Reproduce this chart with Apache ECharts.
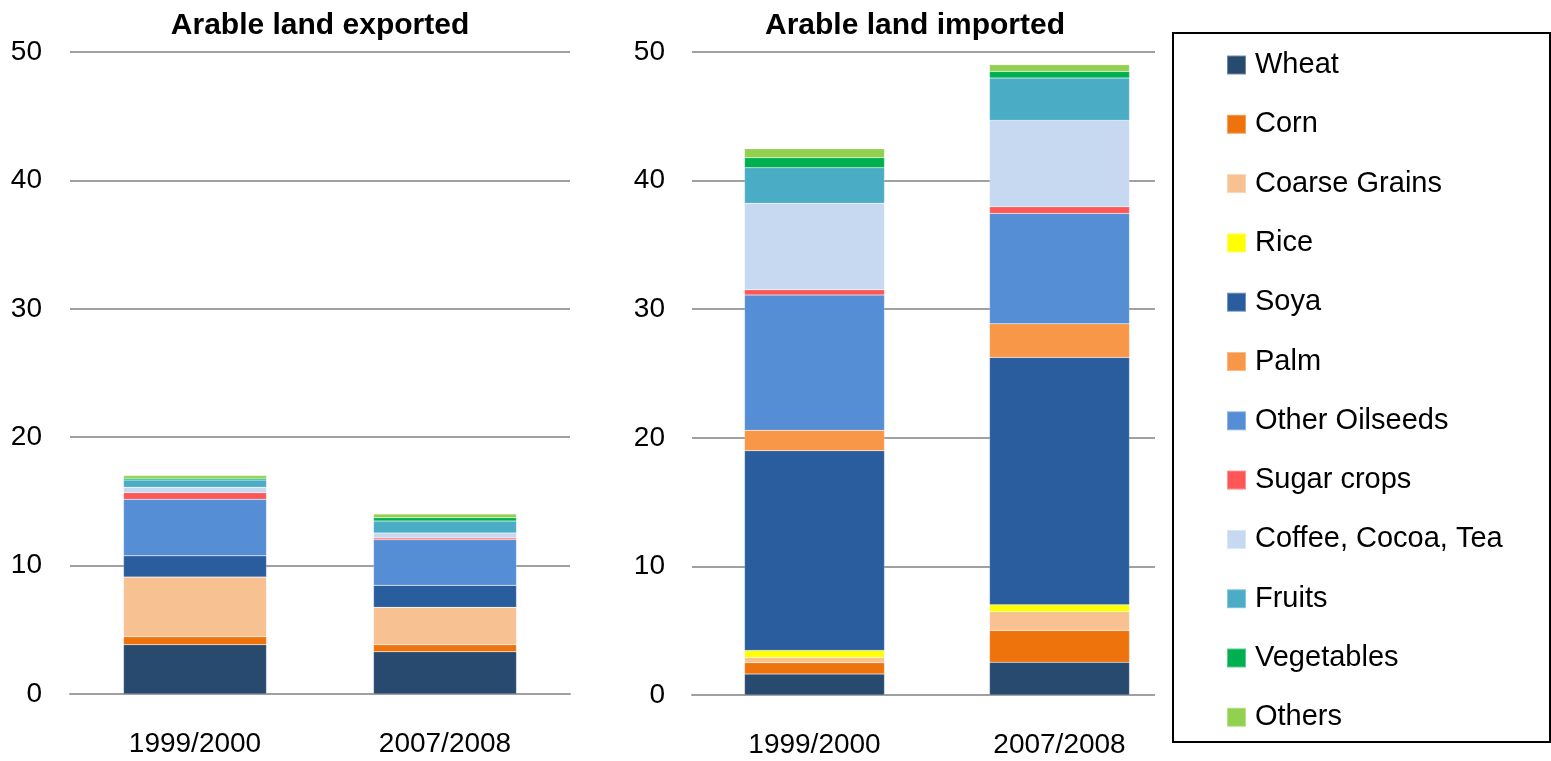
<!DOCTYPE html>
<html>
<head>
<meta charset="utf-8">
<script src="https://cdn.jsdelivr.net/npm/echarts@6/dist/echarts.min.js"></script>
<style>
  html, body { margin: 0; padding: 0; background: #fff; }
  #chart { width: 1551px; height: 761px; }
</style>
</head>
<body>
<div id="chart"></div>
<script>
// categories and crops
const years = ['1999/2000', '2007/2008'];
const crops = ['Wheat', 'Corn', 'Coarse Grains', 'Rice', 'Soya', 'Palm', 'Other Oilseeds',
  'Sugar crops', 'Coffee, Cocoa, Tea', 'Fruits', 'Vegetables', 'Others'];
const cropColors = ['#294A6F', '#EE730D', '#F8C192', '#FFFF00', '#2A5D9E', '#F79747', '#558ED5',
  '#FF5757', '#C7D9F0', '#4BACC6', '#00B050', '#92D050'];

// values, in crop order
const exported1999 = [3.84, 0.62, 4.65, 0, 1.66, 0, 4.39, 0.52, 0.42, 0.57, 0.13, 0.21];
const exported2007 = [3.29, 0.55, 2.91, 0, 1.72, 0, 3.55, 0.13, 0.39, 0.93, 0.26, 0.29];
const imported1999 = [1.63, 0.88, 0.41, 0.55, 15.53, 1.58, 10.52, 0.42, 6.71, 2.77, 0.78, 0.70];
const imported2007 = [2.54, 2.48, 1.46, 0.54, 19.23, 2.62, 8.58, 0.52, 6.71, 3.30, 0.51, 0.52];

const yTicks = { min: 0, max: 50, interval: 10 };

const chart = echarts.init(document.getElementById('chart'), null, { renderer: 'canvas' });
const font = 'Liberation Sans, Arial, sans-serif';

function makeSeries(idx, a, b, stack, width) {
  return crops.map((name, i) => ({
    name: name,
    type: 'bar',
    stack: stack,
    xAxisIndex: idx,
    yAxisIndex: idx,
    barWidth: width,
    data: [a[i], b[i]],
    itemStyle: { color: cropColors[i], borderColor: 'rgba(255,255,255,0.35)', borderWidth: 0.5 },
    emphasis: { disabled: true }
  }));
}

function xAxis(idx) {
  return {
    type: 'category',
    gridIndex: idx,
    data: years,
    axisTick: { show: false },
    axisLine: { lineStyle: { color: '#a0a0a0', width: 2 } },
    axisLabel: { color: '#000', fontSize: 28, fontFamily: font, margin: 36 }
  };
}

function yAxis(idx, margin) {
  return {
    type: 'value',
    gridIndex: idx,
    min: yTicks.min,
    max: yTicks.max,
    interval: yTicks.interval,
    axisLine: { show: false },
    axisTick: { show: false },
    splitLine: { lineStyle: { color: '#a0a0a0', width: 2 } },
    axisLabel: { color: '#000', fontSize: 28, fontFamily: font, margin: margin }
  };
}

chart.setOption({
  animation: false,
  title: [
    { text: 'Arable land exported', left: 315, top: 6, textAlign: 'center',
      textStyle: { fontSize: 30, fontWeight: 'bold', fontFamily: font, color: '#000' } },
    { text: 'Arable land imported', left: 910, top: 6, textAlign: 'center',
      textStyle: { fontSize: 30, fontWeight: 'bold', fontFamily: font, color: '#000' } }
  ],
  grid: [
    { left: 70, right: 981, top: 52, bottom: 67 },
    { left: 692, right: 369, top: 52, bottom: 66 }
  ],
  xAxis: [xAxis(0), xAxis(1)],
  yAxis: [yAxis(0, 28), yAxis(1, 27)],
  legend: {
    orient: 'vertical',
    left: 1226,
    top: 50,
    padding: 0,
    itemWidth: 19,
    itemHeight: 19,
    itemGap: 29.3,
    icon: 'rect',
    data: crops,
    textStyle: { fontSize: 29, fontFamily: font, color: '#000', lineHeight: 30, padding: [0, 0, 0, 4] }
  },
  graphic: [
    // Excel's gridlines stop short of the legend box
    { type: 'rect', shape: { x: 1155, y: 40, width: 40, height: 670 },
      style: { fill: '#fff' }, z: 100 },
    { type: 'rect', shape: { x: 1173, y: 33, width: 377, height: 709 },
      style: { fill: 'none', stroke: '#000', lineWidth: 2 }, z: 101 }
  ],
  series: makeSeries(0, exported1999, exported2007, 'exp', 143)
    .concat(makeSeries(1, imported1999, imported2007, 'imp', 140))
});
</script>
</body>
</html>
